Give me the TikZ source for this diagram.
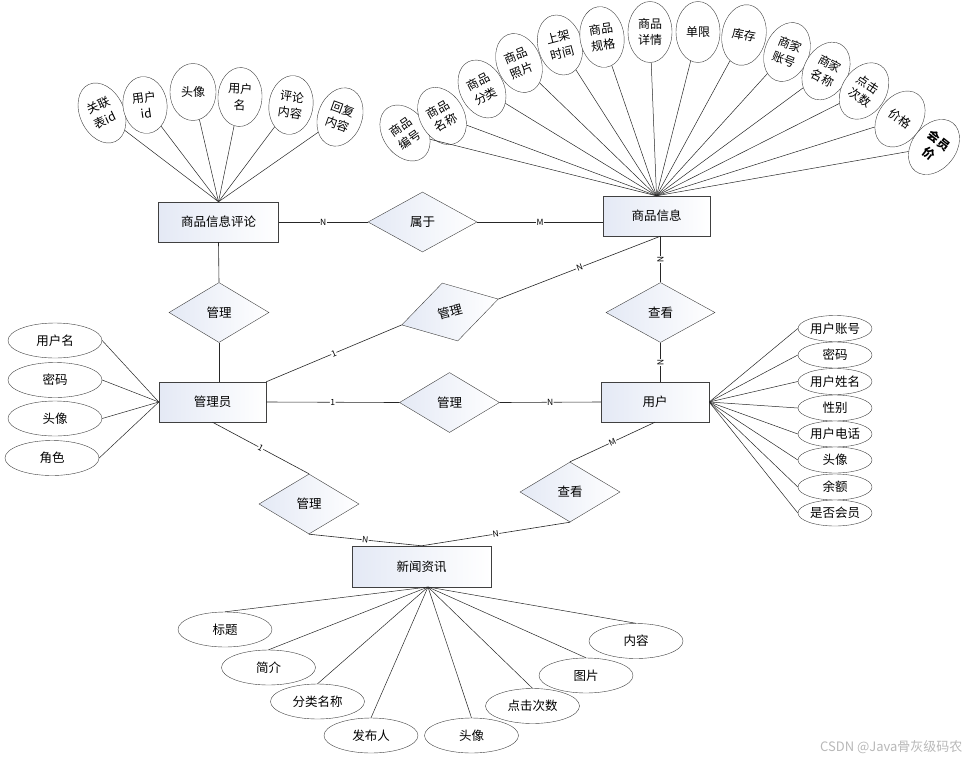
\documentclass[tikz,border=0pt]{standalone}
\usepackage{fontspec}
\setmainfont{Noto Sans CJK SC}
\usepackage{xcolor}
\usepackage{tikz}
\usetikzlibrary{shapes.geometric}

\definecolor{boxtint}{RGB}{228,233,245}
\tikzset{
  entity/.style={draw=black!75, left color=boxtint, right color=white, minimum height=40pt, inner sep=0pt, font=\fontsize{12.5}{14}\selectfont},
  rel/.style={diamond, draw=black!75, left color=boxtint, right color=white, minimum width=100pt, minimum height=60pt, inner sep=0pt, aspect=1.7, font=\fontsize{12.5}{14}\selectfont},
  attr/.style={ellipse, draw=black!75, fill=white, minimum width=94pt, minimum height=35pt, inner sep=0pt, font=\fontsize{12.5}{14}\selectfont},
  small/.style={attr, minimum width=74pt, minimum height=26pt},
  tall/.style={ellipse, draw=black!75, fill=white, minimum width=44pt, minimum height=61pt, inner sep=0pt, align=center, font=\fontsize{12}{16}\selectfont},
  card/.style={sloped, fill=white, inner sep=0.4pt, font=\fontsize{8.5}{9}\selectfont},
  link/.style={draw=black!85, line width=0.6pt},
  fan/.style={draw=black!85, line width=0.5pt}
}

\begin{document}
\begin{tikzpicture}[x=1pt, y=-1pt]
\useasboundingbox (0,0) rectangle (970,764);

\node[entity, minimum width=120pt] (cmt) at (218.5,222) {商品信息评论};
\node[entity, minimum width=107pt] (goods) at (656.5,216) {商品信息};
\node[entity, minimum width=107pt] (adm) at (212.5,402) {管理员};
\node[entity, minimum width=108pt] (usr) at (655,402) {用户};
\node[entity, minimum width=139pt, minimum height=41pt] (news) at (421.5,566.5) {新闻资讯};

\node[rel, minimum width=109pt] (belong) at (422.5,222) {属于};
\node[rel] (mgcmt) at (219,312.5) {管理};
\node[rel, rotate=15] (mggoods) at (450,312) {管理};
\node[rel] (mgusr) at (449.5,402.5) {管理};
\node[rel, minimum width=109pt] (lookgoods) at (660.5,312.5) {查看};
\node[rel] (mgnews) at (309,504) {管理};
\node[rel] (looknews) at (570,492) {查看};

\draw[link] (cmt.east) -- node[card] {N} (belong.west);
\draw[link] (belong.east) -- node[card] {M} (belong.east -| goods.west);
\draw[link] (cmt.south) -- (mgcmt.north);
\draw[link] (mgcmt.south) -- (mgcmt.south |- adm.north);
\draw[link] (adm.north east) -- node[card] {1} (mggoods.west);
\draw[link] (mggoods.east) -- node[card] {N} (lookgoods.north |- goods.south);
\draw[link] (adm.east) -- node[card] {1} (mgusr.west);
\draw[link] (mgusr.east) -- node[card] {N} (usr.west);
\draw[link] (lookgoods.north |- goods.south) -- node[card] {N} (lookgoods.north);
\draw[link] (lookgoods.south) -- node[card] {N} (lookgoods.south |- usr.north);
\draw[link] (adm.south) -- node[card] {1} (mgnews.north);
\draw[link] (mgnews.south) -- node[card] {N} (news.north);
\draw[link] (looknews.south) -- node[card] {N} (news.north);
\draw[link] (usr.south) -- node[card] {M} (looknews.north);

\node[tall, rotate=25, minimum height=63pt] (c1) at (102,113) {关联\\表id};
\node[tall, rotate=8, minimum height=57pt] (c2) at (145,105) {用户\\id};
\node[tall, minimum width=46pt, minimum height=57pt] (c3) at (193,92) {头像};
\node[tall, rotate=-3, minimum height=59pt] (c4) at (240,97) {用户\\名};
\node[tall, rotate=-8, minimum height=59pt] (c5) at (291,105) {评论\\内容};
\node[tall, rotate=-20, minimum height=60pt] (c6) at (340,117) {回复\\内容};
\draw[fan] (c1) -- (cmt.north);
\draw[fan] (c2) -- (cmt.north);
\draw[fan] (c3) -- (cmt.north);
\draw[fan] (c4) -- (cmt.north);
\draw[fan] (c5) -- (cmt.north);
\draw[fan] (c6) -- (cmt.north);

\node[tall, rotate=35] (g1) at (405,133) {商品\\编号};
\node[tall, rotate=30] (g2) at (442,116) {商品\\名称};
\node[tall, rotate=27] (g3) at (482,89) {商品\\分类};
\node[tall, rotate=22] (g4) at (519,63) {商品\\照片};
\node[tall, rotate=15] (g5) at (560,45) {上架\\时间};
\node[tall, rotate=8] (g6) at (602,37) {商品\\规格};
\node[tall] (g7) at (650,32) {商品\\详情};
\node[tall] (g8) at (698,32) {单限};
\node[tall, rotate=-10] (g9) at (744,35) {库存};
\node[tall, rotate=-22] (g10) at (787,52) {商家\\账号};
\node[tall, rotate=-28] (g11) at (826,71) {商家\\名称};
\node[tall, rotate=-33] (g12) at (864,91) {点击\\次数};
\node[tall, rotate=-35] (g13) at (900,119) {价格};
\node[tall, rotate=-38] (g14) at (934,147) {\bfseries 会员\\\bfseries 价};
\draw[fan] (g1) -- (goods.north);
\draw[fan] (g2) -- (goods.north);
\draw[fan] (g3) -- (goods.north);
\draw[fan] (g4) -- (goods.north);
\draw[fan] (g5) -- (goods.north);
\draw[fan] (g6) -- (goods.north);
\draw[fan] (g7) -- (goods.north);
\draw[fan] (g8) -- (goods.north);
\draw[fan] (g9) -- (goods.north);
\draw[fan] (g10) -- (goods.north);
\draw[fan] (g11) -- (goods.north);
\draw[fan] (g12) -- (goods.north);
\draw[fan] (g13) -- (goods.north);
\draw[fan] (g14) -- (goods.north);

\node[attr] (a1) at (55,340.5) {用户名};
\node[attr] (a2) at (55,380) {密码};
\node[attr] (a3) at (55,418.5) {头像};
\node[attr] (a4) at (52,458) {角色};
\draw[fan] (a1.east) -- (adm.west);
\draw[fan] (a2.east) -- (adm.west);
\draw[fan] (a3.east) -- (adm.west);
\draw[fan] (a4.east) -- (adm.west);

\node[small] (u1) at (835,328.5) {用户账号};
\node[small] (u2) at (835,355) {密码};
\node[small] (u3) at (835,381.5) {用户姓名};
\node[small] (u4) at (835,408) {性别};
\node[small] (u5) at (835,434) {用户电话};
\node[small] (u6) at (835,460) {头像};
\node[small] (u7) at (835,487) {余额};
\node[small] (u8) at (835,513) {是否会员};
\draw[fan] (u1.west) -- (usr.east);
\draw[fan] (u2.west) -- (usr.east);
\draw[fan] (u3.west) -- (usr.east);
\draw[fan] (u4.west) -- (usr.east);
\draw[fan] (u5.west) -- (usr.east);
\draw[fan] (u6.west) -- (usr.east);
\draw[fan] (u7.west) -- (usr.east);
\draw[fan] (u8.west) -- (usr.east);

\coordinate (newshub) at (428,587);
\node[attr] (n1) at (225,629.5) {标题};
\node[attr] (n2) at (268.5,667.5) {简介};
\node[attr] (n3) at (317.5,701.5) {分类名称};
\node[attr] (n4) at (371,735.5) {发布人};
\node[attr] (n5) at (471.5,735.5) {头像};
\node[attr] (n6) at (532.5,706) {点击次数};
\node[attr] (n7) at (586,675.5) {图片};
\node[attr] (n8) at (636,641) {内容};
\draw[fan] (n1.north) -- (newshub);
\draw[fan] (n2.north) -- (newshub);
\draw[fan] (n3.north) -- (newshub);
\draw[fan] (n4.north) -- (newshub);
\draw[fan] (n5.north) -- (newshub);
\draw[fan] (n6.north) -- (newshub);
\draw[fan] (n7.north) -- (newshub);
\draw[fan] (n8.north) -- (newshub);

\node[anchor=east, text=black!28, font=\fontsize{13}{15}\selectfont] (wm) at (966,747) {CSDN @Java骨灰级码农};
\end{tikzpicture}
\end{document}
